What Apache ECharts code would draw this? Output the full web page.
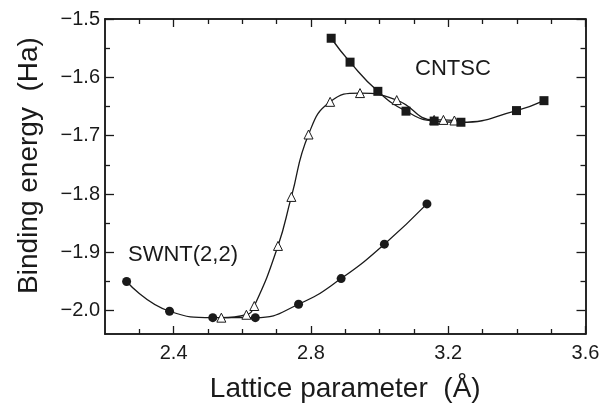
<!DOCTYPE html>
<html>
<head>
<meta charset="utf-8">
<script src="https://cdn.jsdelivr.net/npm/echarts@6/dist/echarts.min.js"></script>
<style>
html,body{margin:0;padding:0;background:#fff;}
#chart{width:612px;height:408px;}
</style>
</head>
<body>
<div id="chart"></div>
<script>
// Data
const swntX = [2.263, 2.388, 2.514, 2.638, 2.764, 2.888, 3.014, 3.138];
const swntY = [-1.950, -2.001, -2.012, -2.012, -1.989, -1.945, -1.886, -1.817];

const triX = [2.539, 2.612, 2.635, 2.704, 2.743, 2.793, 2.856, 2.943, 3.050, 3.159, 3.186, 3.218];
const triY = [-2.012, -2.007, -1.992, -1.889, -1.805, -1.698, -1.642, -1.627, -1.639, -1.673, -1.673, -1.674];

const cntscX = [2.859, 2.914, 2.995, 3.077, 3.159, 3.237, 3.399, 3.479];
const cntscY = [-1.533, -1.574, -1.624, -1.658, -1.675, -1.677, -1.657, -1.640];

const xMajorTicks = [2.4, 2.8, 3.2, 3.6];
const xMinorTicks = [2.3, 2.5, 2.6, 2.7, 2.9, 3.0, 3.1, 3.3, 3.4, 3.5];
const yMajorTicks = [-2.0, -1.9, -1.8, -1.7, -1.6, -1.5];
const yMinorTicks = [-1.95, -1.85, -1.75, -1.65, -1.55];

const xMin = 2.2, xMax = 3.6, yMin = -2.04, yMax = -1.5;
const FONT = 'Liberation Sans, Arial, Helvetica, sans-serif';
const INK = '#1a1a1a';

function pairs(xs, ys){ return xs.map((x,i)=>[x, ys[i]]); }

function xAx(pos, ticks, len, withLabel, name){
  return {
    type:'value', position:pos, min:xMin, max:xMax,
    axisLine:{show:true, onZero:false, lineStyle:{color:INK, width:1.5}},
    axisTick:{show:true, inside:true, length:len, customValues:ticks, lineStyle:{color:INK, width:1.3}},
    axisLabel:withLabel ? {show:true, customValues:ticks, margin:9, color:INK, fontSize:20, fontFamily:FONT,
      formatter:v=>Number(v).toFixed(1)} : {show:false},
    splitLine:{show:false},
    name:name || '', nameLocation:'middle', nameGap:41,
    nameTextStyle:{color:INK, fontSize:28, fontFamily:FONT}
  };
}
function yAx(pos, ticks, len, withLabel, name){
  return {
    type:'value', position:pos, min:yMin, max:yMax,
    axisLine:{show:true, onZero:false, lineStyle:{color:INK, width:1.5}},
    axisTick:{show:true, inside:true, length:len, customValues:ticks, lineStyle:{color:INK, width:1.3}},
    axisLabel:withLabel ? {show:true, customValues:ticks, margin:5, color:INK, fontSize:20, fontFamily:FONT,
      formatter:v=>(v<0?'\u2212':'')+Math.abs(v).toFixed(1)} : {show:false},
    splitLine:{show:false},
    name:name || '', nameLocation:'middle', nameGap:62,
    nameTextStyle:{color:INK, fontSize:28, fontFamily:FONT, padding:[0,0,0,22]}
  };
}

const chart = echarts.init(document.getElementById('chart'), null, {renderer:'canvas'});
chart.setOption({
  animation:false,
  backgroundColor:'#fff',
  grid:{left:105, right:26.5, top:19, bottom:69, containLabel:false},
  xAxis:[
    xAx('bottom', xMajorTicks, 8, true, 'Lattice parameter  (\u00C5)'),
    xAx('bottom', xMinorTicks, 5, false),
    xAx('top', xMajorTicks, 8, false),
    xAx('top', xMinorTicks, 5, false)
  ],
  yAxis:[
    yAx('left', yMajorTicks, 9, true, 'Binding energy  (Ha)'),
    yAx('left', yMinorTicks, 5, false),
    yAx('right', yMajorTicks, 9, false),
    yAx('right', yMinorTicks, 5, false)
  ],
  series:[
    {type:'line', name:'SWNT(2,2)', data:pairs(swntX, swntY), smooth:0.5,
     symbol:'circle', symbolSize:9, showAllSymbol:true,
     lineStyle:{color:INK, width:1.3}, itemStyle:{color:INK}},
    {type:'line', name:'triangle', data:pairs(triX, triY), smooth:0.5,
     symbol:'triangle', symbolSize:9, showAllSymbol:true,
     lineStyle:{color:INK, width:1.3}, itemStyle:{color:'#fff', borderColor:INK, borderWidth:1}},
    {type:'line', name:'CNTSC', data:pairs(cntscX, cntscY), smooth:0.5,
     symbol:'rect', symbolSize:9, showAllSymbol:true,
     lineStyle:{color:INK, width:1.3}, itemStyle:{color:INK}}
  ],
  graphic:[
    {type:'text', left:415, top:58, style:{text:'CNTSC', fontSize:22, fontFamily:FONT, fill:INK}},
    {type:'text', left:128, top:244, style:{text:'SWNT(2,2)', fontSize:22, fontFamily:FONT, fill:INK}}
  ]
});
</script>
</body>
</html>
